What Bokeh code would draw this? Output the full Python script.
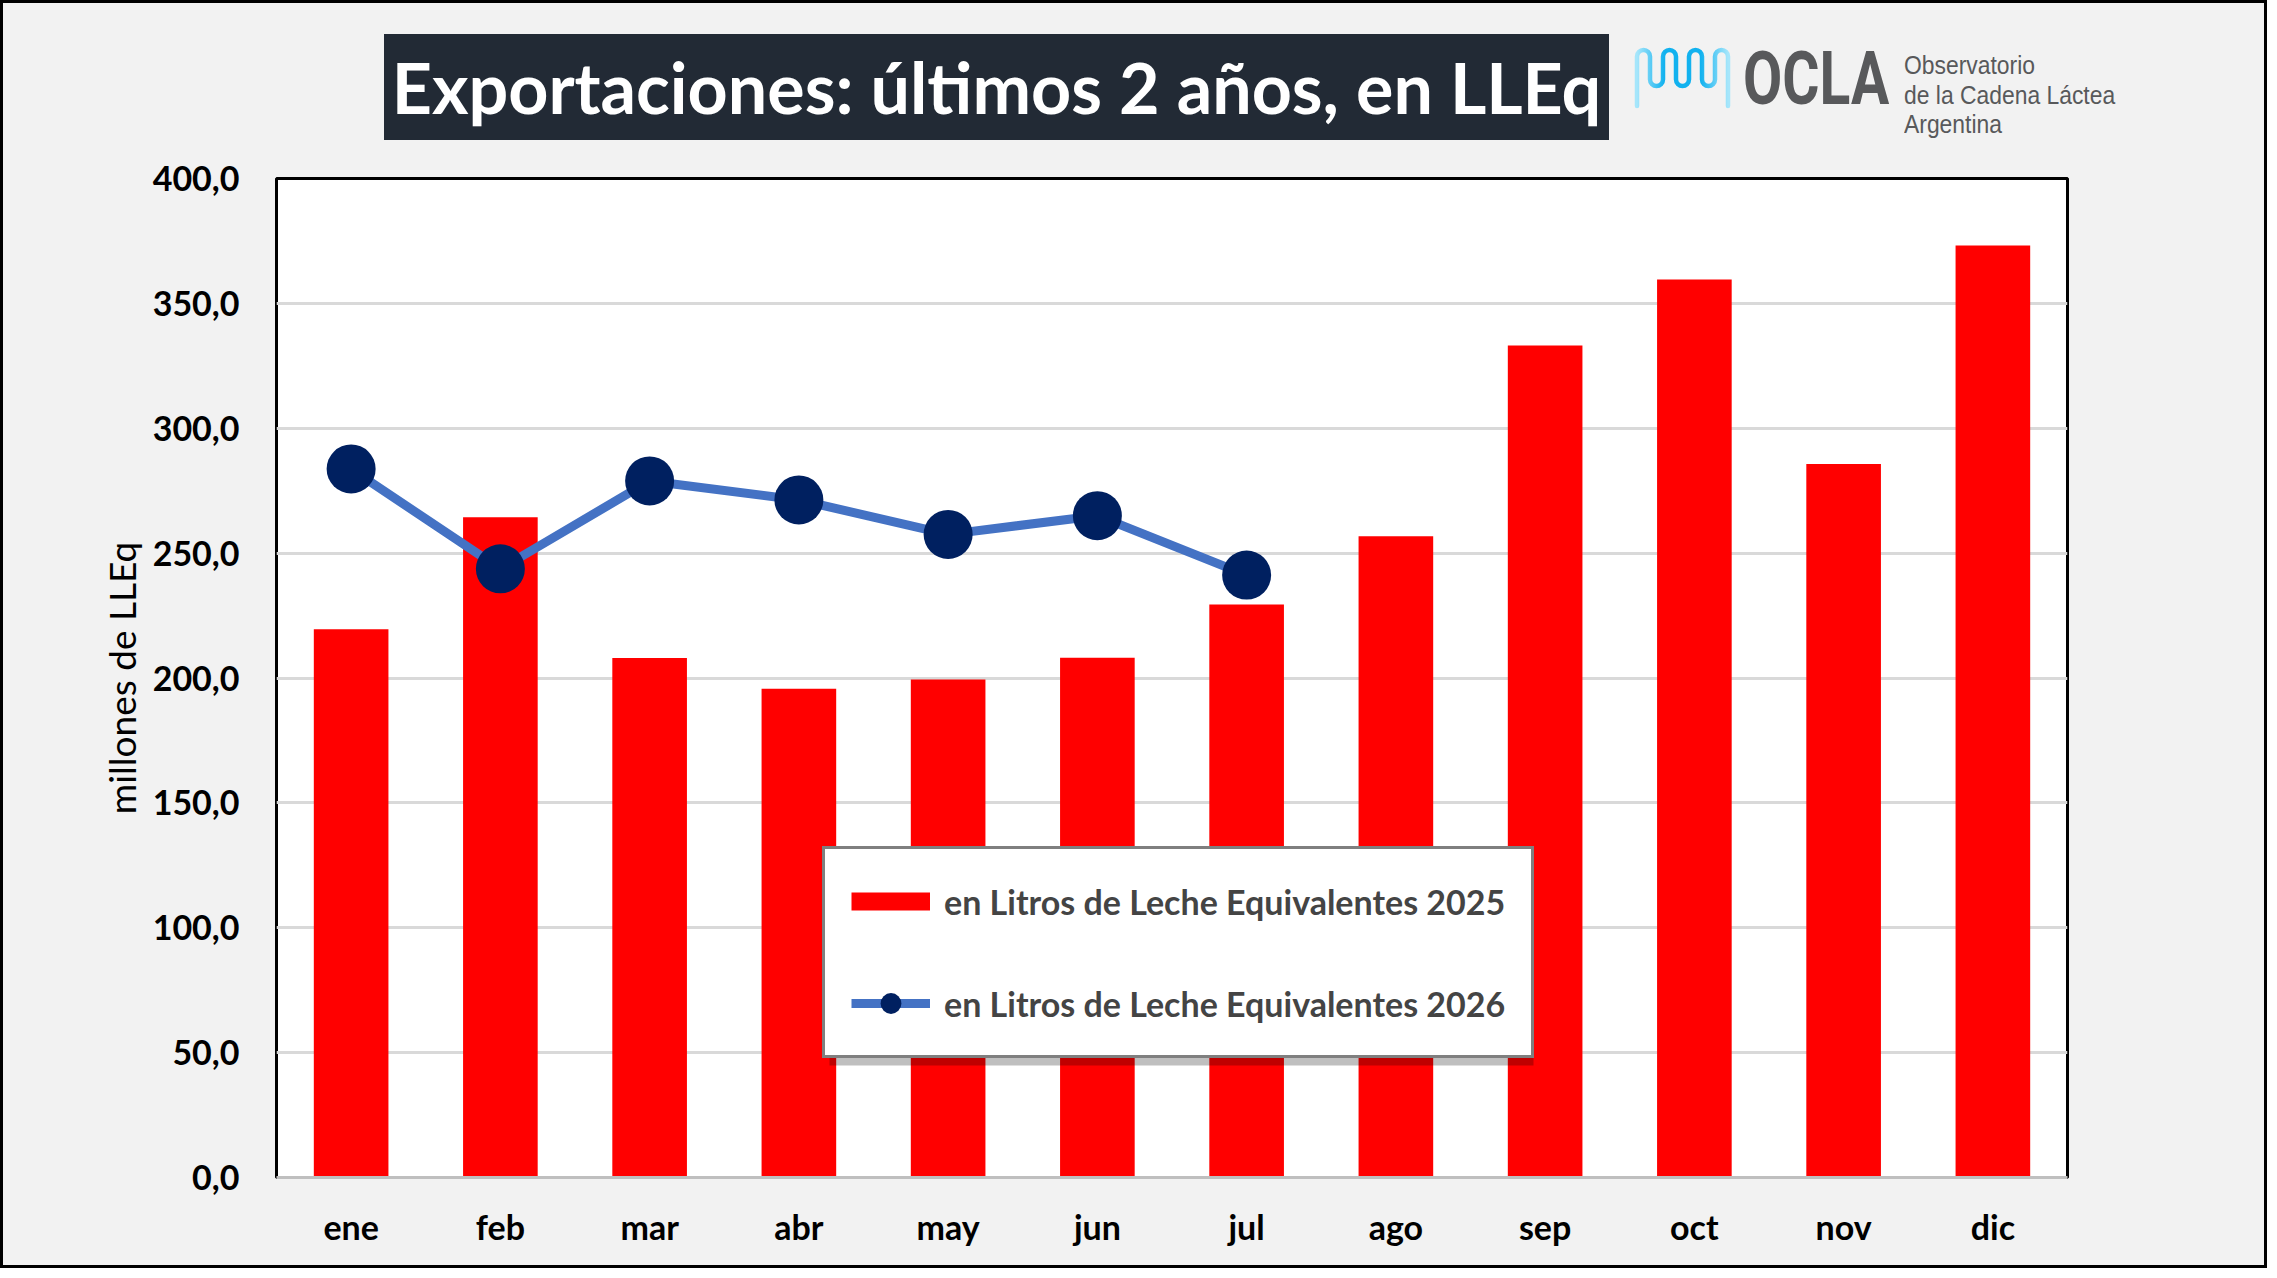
from bokeh.embed import file_html
from bokeh.layouts import column
from bokeh.models import (BoxAnnotation, Div, FactorRange, FixedTicker, Legend,
                          LegendItem, Range1d)
from bokeh.plotting import figure
from bokeh.resources import INLINE

# data (millones de LLEq)
months = ["ene", "feb", "mar", "abr", "may", "jun", "jul", "ago", "sep", "oct", "nov", "dic"]
exp_2025 = [219.5, 264.4, 208.0, 195.7, 199.4, 208.1, 229.4, 256.8, 333.1, 359.6, 285.7, 373.2]
exp_2026 = [283.7, 243.7, 278.9, 271.3, 257.5, 265.0, 241.2]
ytick_values = [0, 50, 100, 150, 200, 250, 300, 350, 400]
ytick_labels = ["0,0", "50,0", "100,0", "150,0", "200,0", "250,0", "300,0", "350,0", "400,0"]

label_2025 = "en Litros de Leche Equivalentes 2025"
label_2026 = "en Litros de Leche Equivalentes 2026"
title_text = "Exportaciones: últimos 2 años, en LLEq"

FONT = "Lato"
W = 2261
HEAD_H = 150

# ---- header: title banner + OCLA logo
wave = ('<svg width="100" height="64" viewBox="0 0 100 64" style="position:absolute;left:1629px;top:43px;">'
        '<defs><linearGradient id="wg" x1="0" x2="1" y1="0" y2="0">'
        '<stop offset="0" stop-color="#a6e6fb"/><stop offset="0.3" stop-color="#12b2ef"/>'
        '<stop offset="0.7" stop-color="#12b2ef"/><stop offset="1" stop-color="#a6e6fb"/>'
        '</linearGradient></defs>'
        '<path d="M5,60 V10.5 A6.5,6.5 0 0 1 18,10.5 V33.5 A6.5,6.5 0 0 0 31,33.5 V10.5 '
        'A6.5,6.5 0 0 1 44,10.5 V33.5 A6.5,6.5 0 0 0 57,33.5 V10.5 A6.5,6.5 0 0 1 70,10.5 '
        'V33.5 A6.5,6.5 0 0 0 83,33.5 V10.5 A6.5,6.5 0 0 1 96,10.5 V60" '
        'fill="none" stroke="url(#wg)" stroke-width="4.5" stroke-linecap="round"/></svg>')

header_html = (
    f'<div style="position:relative;width:{W}px;height:{HEAD_H}px;background:#f2f2f2;">'
    '<div style="position:absolute;left:381px;top:31px;width:1225px;height:106px;'
    'background:#222a35;color:white;display:flex;align-items:center;justify-content:center;'
    f'font:bold 70px {FONT};line-height:1.2;white-space:nowrap;">{title_text}</div>'
    + wave +
    '<div style="position:absolute;left:1740px;top:39px;font:bold 74px Roboto;line-height:1;'
    'color:#58595b;transform:scaleX(0.77);transform-origin:left top;">OCLA</div>'
    '<div style="position:absolute;left:1901px;top:48px;font:26px \'Liberation Sans\';'
    'line-height:29.5px;color:#58595b;white-space:nowrap;transform:scaleX(0.88);'
    'transform-origin:left top;">Observatorio<br>de la Cadena Láctea<br>Argentina</div>'
    '</div>')
head = Div(text=header_html, width=W, height=HEAD_H, styles={"margin": "0", "padding": "0"})

# ---- main chart
p = figure(x_range=FactorRange(*months), y_range=Range1d(0, 400),
           width=W, height=1262 - HEAD_H, output_backend="svg", toolbar_location=None,
           min_border_left=273, min_border_right=197, min_border_top=25, min_border_bottom=88)
p.border_fill_color = "#f2f2f2"
p.background_fill_color = "white"
p.outline_line_color = "black"
p.outline_line_width = 3

bars = p.vbar(x=months, top=exp_2025, width=0.5, fill_color="#ff0000", line_color=None)
line = p.line(x=months[:len(exp_2026)], y=exp_2026, line_color="#4472c4", line_width=9)
dots = p.scatter(x=months[:len(exp_2026)], y=exp_2026, size=49, fill_color="#002060", line_color=None)
# one-point line: draws nothing on the chart, gives the flat red swatch in the legend
swatch = p.line(x=months[:1], y=exp_2025[:1], line_color="#ff0000", line_width=18, line_cap="butt")

p.xgrid.grid_line_color = None
p.ygrid.grid_line_color = "#d9d9d9"
p.ygrid.grid_line_width = 3

p.yaxis.ticker = FixedTicker(ticks=ytick_values)
p.yaxis.major_label_overrides = dict(zip(ytick_values, ytick_labels))
p.yaxis.axis_label = "millones de LLEq"
p.yaxis.axis_label_text_font = FONT
p.yaxis.axis_label_text_font_style = "normal"
p.yaxis.axis_label_text_font_size = "37px"
p.yaxis.axis_label_text_color = "black"
p.yaxis.axis_label_standoff = 6
p.yaxis.axis_line_color = None

for ax in (p.xaxis, p.yaxis):
    ax.major_tick_line_color = None
    ax.minor_tick_line_color = None
    ax.major_label_text_font = FONT
    ax.major_label_text_font_style = "bold"
    ax.major_label_text_font_size = "34px"
    ax.major_label_text_color = "black"
p.yaxis.major_label_standoff = 31
p.xaxis.major_label_standoff = 22
p.xaxis.axis_line_color = "#bfbfbf"
p.xaxis.axis_line_width = 3

# legend with soft shadow
p.add_layout(BoxAnnotation(left=553, right=1257, bottom=112, top=318,
                           left_units="screen", right_units="screen",
                           bottom_units="screen", top_units="screen",
                           fill_color="black", fill_alpha=0.25, line_color=None))
legend = Legend(items=[LegendItem(label=label_2025, renderers=[swatch]),
                       LegendItem(label=label_2026, renderers=[line, dots])],
                location=(546, 119), margin=0, padding=26, spacing=50,
                glyph_width=79, glyph_height=52, label_height=52, label_standoff=14,
                label_text_font=FONT, label_text_font_style="bold", label_text_font_size="34px",
                border_line_color="black", border_line_width=3,
                background_fill_color="white", background_fill_alpha=1)
p.add_layout(legend)

page = column(head, p, spacing=0, styles={"border": "3px solid black", "background": "#f2f2f2"})

open("out.html", "w").write(file_html(page, INLINE))
